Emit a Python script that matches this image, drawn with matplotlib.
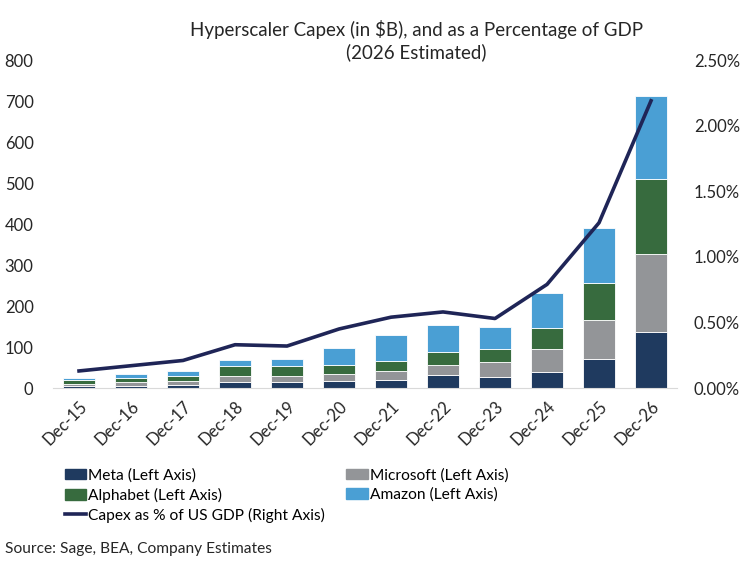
import matplotlib.pyplot as plt
import numpy as np
from matplotlib.patches import Patch
from matplotlib.lines import Line2D

plt.rcParams['font.family'] = ['Lato', 'DejaVu Sans']

# data
years = ["Dec-15", "Dec-16", "Dec-17", "Dec-18", "Dec-19", "Dec-20",
         "Dec-21", "Dec-22", "Dec-23", "Dec-24", "Dec-25", "Dec-26"]
meta = [5, 5, 8, 15, 15, 17, 20, 32, 28, 39, 71, 137]
microsoft = [5, 9, 9, 14, 14, 17, 21, 25, 35, 56, 95, 190]
alphabet = [10, 11, 12, 25, 25, 22, 25, 31, 32, 51, 90, 183]
amazon = [5, 9, 13, 14, 17, 41, 63, 66, 54, 86, 134, 202]
gdp_pct = [0.13, 0.17, 0.21, 0.33, 0.32, 0.45, 0.54, 0.58, 0.53, 0.79, 1.26, 2.19]

c_meta = "#1f3a5f"
c_msft = "#939598"
c_goog = "#376b3e"
c_amzn = "#4a9fd4"
c_line = "#1f2557"
c_text = "#262626"

fig = plt.figure(figsize=(7.5, 5.62), dpi=100)
ax = fig.add_axes([0.0707, 0.3096, 0.832, 0.5834])
x = np.arange(len(years))
w = 0.6

bottom = np.zeros(len(years))
for vals, col in [(meta, c_meta), (microsoft, c_msft), (alphabet, c_goog), (amazon, c_amzn)]:
    ax.bar(x, vals, w, bottom=bottom, color=col, edgecolor="white", linewidth=0.6, zorder=2)
    bottom += np.array(vals)

ax.set_ylim(0, 800)
ax.set_yticks(range(0, 801, 100))
ax.set_xlim(-0.5, 11.5)
ax.set_xticks(x)
ax.set_xticklabels(years, rotation=45, ha="right", rotation_mode="anchor")
ax.tick_params(length=0, labelsize=12, colors=c_text)
ax.tick_params(axis="x", pad=7)
ax.tick_params(axis="y", pad=14)
for s in ["top", "right", "left"]:
    ax.spines[s].set_visible(False)
ax.spines["bottom"].set_color("#d9d9d9")

ax2 = ax.twinx()
ax2.plot(x, gdp_pct, color=c_line, linewidth=2.6, zorder=3)
ax2.set_ylim(0, 2.5)
ax2.set_yticks(np.arange(0, 2.51, 0.5))
ax2.set_yticklabels([f"{v:.2f}%" for v in np.arange(0, 2.51, 0.5)])
ax2.tick_params(length=0, labelsize=12, colors=c_text, pad=12)
for s in ["top", "right", "left", "bottom"]:
    ax2.spines[s].set_visible(False)

fig.text(0.555, 0.928, "Hyperscaler Capex (in $B), and as a Percentage of GDP\n(2026 Estimated)",
         ha="center", va="center", fontsize=13.5, color=c_text, linespacing=1.3)

handles = [Patch(color=c_meta), Patch(color=c_goog),
           Line2D([0], [0], color=c_line, linewidth=2.6),
           Patch(color=c_msft), Patch(color=c_amzn)]
labels = ["Meta (Left Axis)", "Alphabet (Left Axis)", "Capex as % of US GDP (Right Axis)",
          "Microsoft (Left Axis)", "Amazon (Left Axis)"]
fig.legend(handles, labels, ncol=2, loc="upper left", bbox_to_anchor=(0.086, 0.167),
           frameon=False, fontsize=11.2, handlelength=1.4, handletextpad=0.1,
           columnspacing=1.4, labelspacing=0.32, borderaxespad=0, borderpad=0)

fig.text(0.007, 0.016, "Source: Sage, BEA, Company Estimates", fontsize=11.2, color=c_text)

fig.savefig("out.png", dpi=100)
